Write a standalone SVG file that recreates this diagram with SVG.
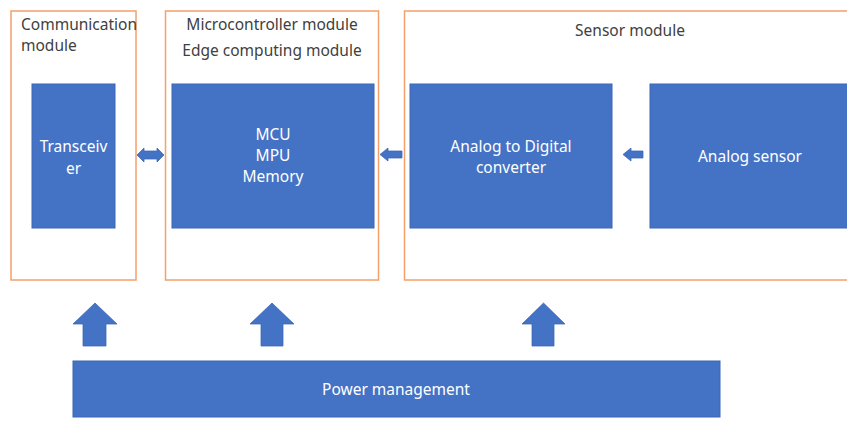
<svg xmlns="http://www.w3.org/2000/svg" width="847" height="430" viewBox="0 0 847 430">
<style>
.mod{fill:#fff;stroke:#F4A06A;stroke-width:1.5}
.blk{fill:#4472C4;stroke:#3A66B5;stroke-width:1}
.arr{fill:#4472C4;stroke:#3A66B5;stroke-width:0.75}
.hd{font-family:"Noto Sans","Open Sans",sans-serif;font-size:15.5px;fill:#404040}
.wt{font-family:"Noto Sans","Open Sans",sans-serif;font-size:15.5px;fill:#fff;text-anchor:middle}
</style>
<rect width="847" height="430" fill="#fff"/>
<g id="comm">
<rect class="mod" x="11" y="11" width="125" height="269"/>
<text class="hd" x="21" y="30">Communication</text>
<text class="hd" x="21" y="51">module</text>
</g>
<g id="micro">
<rect class="mod" x="165.5" y="11" width="213" height="269"/>
<text class="hd" x="272" y="30" text-anchor="middle">Microcontroller module</text>
<text class="hd" x="272" y="56" text-anchor="middle">Edge computing module</text>
</g>
<g id="sensor">
<rect class="mod" x="404.5" y="11" width="450" height="269"/>
<text class="hd" x="630" y="36" text-anchor="middle">Sensor module</text>
</g>
<g id="transceiver">
<rect class="blk" x="32" y="84" width="83" height="144"/>
<text class="wt" x="73.5" y="152">Transceiv</text>
<text class="wt" x="73.5" y="174">er</text>
</g>
<g id="mcu">
<rect class="blk" x="172" y="84" width="202" height="144"/>
<text class="wt" x="273" y="140">MCU</text>
<text class="wt" x="273" y="161">MPU</text>
<text class="wt" x="273" y="182">Memory</text>
</g>
<g id="adc">
<rect class="blk" x="410" y="84" width="202" height="144"/>
<text class="wt" x="511" y="152">Analog to Digital</text>
<text class="wt" x="511" y="173">converter</text>
</g>
<g id="analog">
<rect class="blk" x="650" y="84" width="210" height="144"/>
<text class="wt" x="750" y="162">Analog sensor</text>
</g>
<g id="power">
<rect class="blk" x="73" y="361" width="647" height="56"/>
<text class="wt" x="396" y="395">Power management</text>
</g>
<g id="connectors">
<path class="arr" d="M137,155 L144,148 L144,151 L157,151 L157,148 L164,155 L157,162 L157,159 L144,159 L144,162 Z"/>
<path class="arr" d="M380,154.5 L388,148 L388,151 L402,151 L402,158 L388,158 L388,161 Z"/>
<path class="arr" d="M623,154.5 L631,148 L631,151 L643,151 L643,158 L631,158 L631,161 Z"/>
<path class="arr" d="M95,303 L117,324 L106,324 L106,346 L83,346 L83,324 L73,324 Z"/>
<path class="arr" d="M272,303 L294,324 L283,324 L283,346 L261,346 L261,324 L250,324 Z"/>
<path class="arr" d="M543.5,303 L565,324 L554,324 L554,346 L532,346 L532,324 L522,324 Z"/>
</g>
</svg>
